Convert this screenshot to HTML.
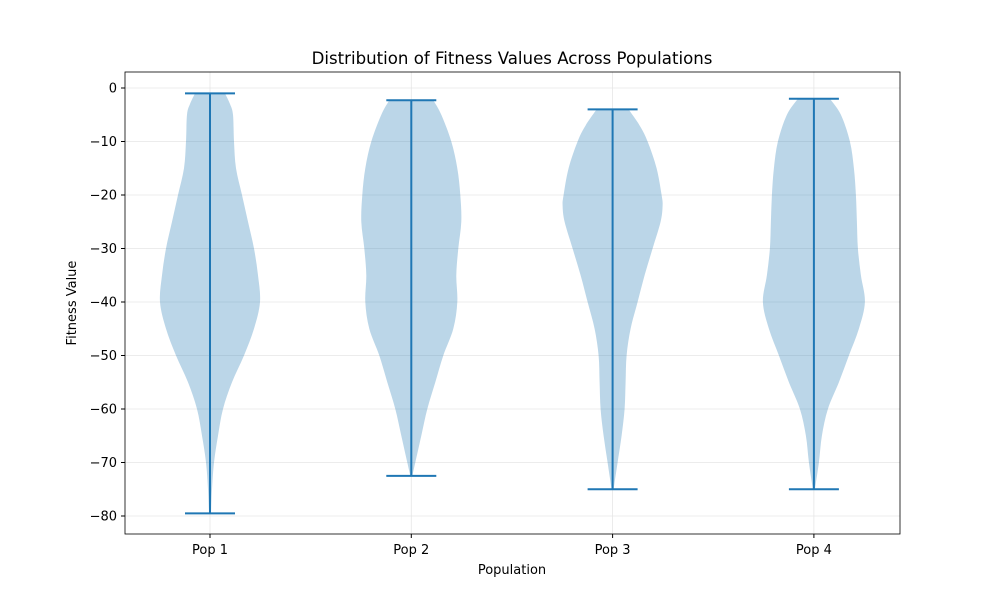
<!DOCTYPE html>
<html><head><meta charset="utf-8"><style>
body{margin:0;background:#fff;font-family:"Liberation Sans","DejaVu Sans",sans-serif}
svg text{font-family:"DejaVu Sans","Liberation Sans",sans-serif}
</style></head><body>
<svg id="chart" width="1000" height="600" xmlns="http://www.w3.org/2000/svg">
<rect width="1000" height="600" fill="#fff"/>
<g id="grid"></g><g id="violins"></g><g id="axes"></g>
</svg>
<script>
const categories = ["Pop 1","Pop 2","Pop 3","Pop 4"];
const yTicks = [0,-10,-20,-30,-40,-50,-60,-70,-80];
const mins = [-79.5,-72.5,-75,-75];
const maxs = [-1,-2.3,-4,-2];
const levels1 = [-1,-3,-5,-10,-15,-20,-25,-30,-35,-40,-45,-50,-55,-60,-65,-70,-75,-79.5];
const dens1 = [15,20,23,24,26,32,38,44,48,50,44,34,22,13,8,4,2,1];
const levels2 = [-2.3,-5,-10,-15,-20,-25,-30,-35,-40,-45,-50,-55,-60,-65,-70,-72.5];
const dens2 = [22,30,40,46,49,50,47,45,46,42,32,24,16,10,4,1];
const levels3 = [-4,-7,-10,-15,-20,-22,-25,-30,-35,-40,-45,-50,-55,-60,-65,-70,-75];
const dens3 = [16,27,35,44,49,50,48,40,32,25,18,14,13,12,9,5,1];
const levels4 = [-2,-5,-10,-15,-20,-25,-30,-35,-40,-45,-50,-55,-60,-65,-70,-75];
const dens4 = [16,27,36,40,42,43,44,47,51,45,35,25,14,8,5,1];
const allLevels=[levels1,levels2,levels3,levels4], allDens=[dens1,dens2,dens3,dens4];

const L=125,R=900,T=72,B=534;
const yv=v=>88-v*5.35;
const xc=i=>210+i*201.3;
const ns="http://www.w3.org/2000/svg";
function mk(tag,attrs,parent,txt){const e=document.createElementNS(ns,tag);for(const k in attrs)e.setAttribute(k,attrs[k]);if(txt!==undefined)e.textContent=txt;parent.appendChild(e);return e;}
const grid=document.getElementById('grid'),vg=document.getElementById('violins'),ax=document.getElementById('axes');
yTicks.forEach(t=>{const g=mk('line',{x1:L,x2:R,y1:yv(t),y2:yv(t),stroke:'#e6e6e6','stroke-width':0.8},grid);
});
categories.forEach((c,i)=>{const g=mk('line',{x1:xc(i),x2:xc(i),y1:T,y2:B,stroke:'#e6e6e6','stroke-width':0.8},grid);
});
function smooth(pts){let d='M'+pts[0][0]+','+pts[0][1];for(let i=0;i<pts.length-1;i++){const p0=pts[Math.max(0,i-1)],p1=pts[i],p2=pts[i+1],p3=pts[Math.min(pts.length-1,i+2)];
d+=` C${p1[0]+(p2[0]-p0[0])/6},${p1[1]+(p2[1]-p0[1])/6} ${p2[0]-(p3[0]-p1[0])/6},${p2[1]-(p3[1]-p1[1])/6} ${p2[0]},${p2[1]}`;}return d;}
categories.forEach((c,i)=>{const cx=xc(i),lv=allLevels[i],dn=allDens[i];
const right=lv.map((v,k)=>[cx+dn[k],yv(v)]);const left=lv.map((v,k)=>[cx-dn[k],yv(v)]).reverse();
let d=smooth(right);d+=' L'+left[0][0]+','+left[0][1]+smooth(left).replace(/^M[^ C]+/,'')+' Z';
const p=mk('path',{d:d,fill:'#1f77b4','fill-opacity':0.3,stroke:'none'},vg);

const ln=mk('line',{x1:cx,x2:cx,y1:yv(maxs[i]),y2:yv(mins[i]),stroke:'#1f77b4','stroke-width':2},vg);

[maxs[i],mins[i]].forEach(v=>{const cp=mk('line',{x1:cx-25,x2:cx+25,y1:yv(v),y2:yv(v),stroke:'#1f77b4','stroke-width':2},vg);
});
const tk=mk('line',{x1:cx,x2:cx,y1:B,y2:B+4,stroke:'#000'},ax);
const tl=mk('text',{x:cx,y:B+20,'text-anchor':'middle','font-size':13},ax,c);
});
yTicks.forEach(t=>{const tk=mk('line',{x1:L-4,x2:L,y1:yv(t),y2:yv(t),stroke:'#000'},ax);
const tl=mk('text',{x:L-8,y:yv(t)+4.5,'text-anchor':'end','font-size':13},ax,t===0?'0':'−'+(-t));});
const fr=mk('rect',{x:L,y:T,width:R-L,height:B-T,fill:'none',stroke:'#000','stroke-width':0.8},ax);
const ti=mk('text',{x:512,y:64,'text-anchor':'middle','font-size':16.6},ax,'Distribution of Fitness Values Across Populations');
const xt=mk('text',{x:512,y:574,'text-anchor':'middle','font-size':13},ax,'Population');
const yt=mk('text',{x:76,y:303,'text-anchor':'middle','font-size':13,transform:'rotate(-90 76 303)'},ax,'Fitness Value');
</script>
</body></html>
